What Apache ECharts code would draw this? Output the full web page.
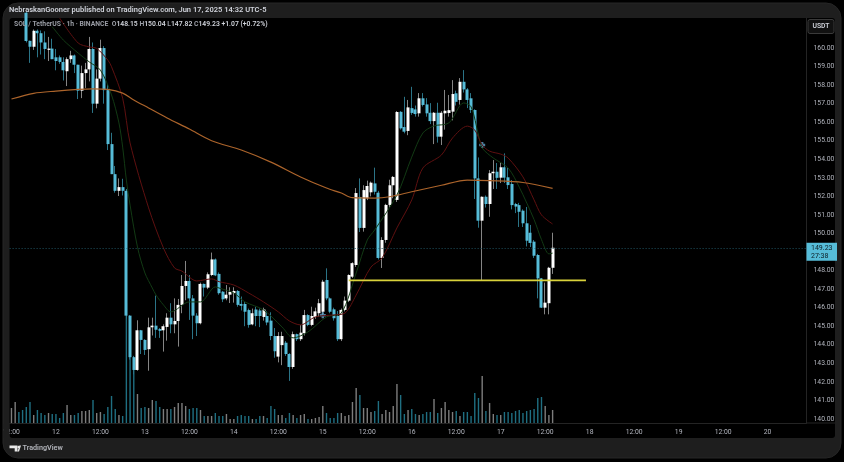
<!DOCTYPE html>
<html>
<head>
<meta charset="utf-8">
<style>html,body{margin:0;padding:0;background:#000}#main{width:844px;height:462px}</style>
<script src="https://cdn.jsdelivr.net/npm/echarts@6/dist/echarts.min.js"></script>
</head>
<body>
<div id="main"></div>
<script>
// time axis labels, one every 12 bars
var timeLabels = ['12:00','12','12:00','13','12:00','14','12:00','15','12:00','16','12:00','17','12:00','18','12:00','19','12:00','20'];
var priceTicks = [140,141,142,143,144,145,146,147,148,149,150,151,152,153,154,155,156,157,158,159,160];

// hourly candles
var opens = [
	162.2,162.6,162.9,162.5,161.9,160.39,160.07,160.93,160.8,160.3,
	159.9,159.97,159.5,159.5,159.25,158.75,159.4,159.6,159.1,157.7,
	158.65,158.85,159.95,157.0,158.35,160.0,157.73,154.82,153.2,152.3,
	152.5,152.3,145.57,143.33,142.64,144.78,144.26,143.76,144.94,145.03,
	144.85,144.78,144.96,145.46,145.1,145.28,146.15,147.17,147.44,146.5,
	145.57,145.16,147.28,147.08,147.76,148.6,147.82,146.86,146.5,146.7,
	146.78,146.9,146.2,146.2,145.87,145.1,145.9,145.85,145.5,145.55,
	145.3,144.47,143.36,143.98,144.11,143.5,142.8,144.57,144.3,144.62,
	145.6,145.07,145.5,145.7,145.78,147.49,146.5,145.91,145.55,144.3,
	145.88,146.38,147.67,148.3,151.97,150.3,151.9,152.22,152.7,152.2,
	148.68,149.65,151.54,152.6,151.81,156.56,155.74,155.53,156.76,156.69,
	156.48,157.29,156.96,156.51,156.06,156.51,155.22,156.48,156.5,156.57,
	157.56,157.2,158.18,157.77,157.29,156.66,152.97,150.69,151.98,151.59,
	153.25,153.33,153.01,153.57,153.03,152.67,151.59,151.53,151.23,150.55,
	150.04,149.56,148.84,147.58,146.0,146.24,148.15
];
var closes = [
	162.6,162.9,162.5,161.9,160.38,160.07,160.93,160.8,160.3,159.95,
	159.97,159.4,159.3,159.25,158.8,159.4,159.6,159.1,157.7,158.65,
	158.85,159.95,157.0,158.35,160.0,157.73,154.82,153.2,152.3,152.5,
	152.3,145.57,143.33,142.64,144.78,144.26,143.72,144.94,145.03,144.81,
	144.75,145.0,145.46,145.1,145.28,146.15,147.17,147.44,146.5,145.57,
	145.16,147.28,147.08,147.8,148.6,147.74,146.78,146.45,146.7,146.85,
	146.9,146.15,146.1,145.78,145.07,145.7,145.55,145.55,145.9,145.2,
	144.47,143.65,144.47,144.47,143.5,142.8,144.57,144.3,144.65,145.6,
	145.07,145.55,145.8,146.24,147.4,146.5,145.78,145.43,144.3,145.88,
	146.38,147.76,148.4,152.18,150.3,152.34,152.56,152.74,152.25,148.68,
	149.65,151.54,152.6,153.05,156.55,155.67,155.49,156.8,156.5,156.44,
	157.29,156.93,156.48,156.06,156.51,155.22,156.51,156.62,156.65,157.52,
	157.1,158.18,157.77,157.2,156.66,152.97,150.69,151.98,151.59,153.25,
	153.33,153.0,153.57,153.01,152.61,151.53,151.45,151.17,150.55,149.61,
	149.49,148.8,147.58,146.0,146.27,148.15,149.23
];
var lows = [
	162.0,162.4,162.3,161.8,160.3,159.2,159.9,159.5,159.65,159.4,
	159.3,159.4,158.8,159.15,158.25,157.95,159.2,158.65,157.25,157.3,
	157.85,158.2,156.5,156.75,158.2,157.0,154.5,153.2,152.2,152.02,
	152.05,145.4,143.2,142.4,142.6,143.5,143.45,142.6,144.5,144.37,
	144.37,143.63,144.22,144.62,144.62,143.9,145.7,146.4,145.34,144.3,
	144.47,145.1,146.6,147.0,147.7,147.7,146.7,146.3,146.4,146.25,
	146.27,146.05,145.85,145.0,144.92,145.05,145.0,144.95,145.3,145.05,
	144.25,143.3,143.05,142.9,143.4,142.05,142.7,144.2,144.2,144.5,
	145.0,145.0,145.4,145.5,145.6,146.4,145.7,145.3,144.2,144.2,
	145.8,146.3,147.6,148.2,150.08,150.1,151.8,152.0,152.1,148.6,
	148.14,149.5,151.4,151.9,151.7,155.6,155.4,155.3,156.4,156.3,
	156.3,156.85,156.3,155.9,154.82,154.9,154.77,155.6,156.3,156.1,
	156.9,156.95,157.6,156.76,156.5,151.86,150.31,147.49,151.4,150.9,
	152.4,152.4,152.72,152.72,152.4,151.3,151.1,150.35,150.35,149.3,
	149.27,148.68,146.5,145.98,145.64,145.64,147.82
];
var highs = [
	162.9,163.1,163.0,162.6,162.0,160.4,161.0,161.0,160.95,160.9,
	160.6,160.5,159.95,159.6,159.5,159.5,159.85,159.65,159.1,159.05,
	159.2,160.6,160.3,158.85,160.45,160.1,158.05,155.43,153.64,152.97,
	152.95,152.4,145.6,143.4,145.32,144.8,144.3,145.46,145.46,146.65,
	144.9,145.1,145.7,146.24,146.5,146.47,147.76,148.52,147.76,146.68,
	145.7,147.35,147.3,147.9,148.97,148.65,147.9,146.9,147.22,147.1,
	147.1,146.95,146.6,146.3,145.95,145.95,146.05,145.95,146.0,145.8,
	145.75,144.9,144.68,144.7,144.2,143.55,144.71,144.6,145.07,145.88,
	145.65,146.05,146.0,146.47,147.5,148.12,146.55,146.0,145.82,145.95,
	146.6,147.8,148.45,152.45,152.97,152.6,152.85,152.8,153.55,152.3,
	149.8,151.6,152.9,153.1,156.6,156.6,157.37,157.2,157.91,156.9,
	157.57,157.57,157.3,157.03,156.55,157.05,156.6,157.74,157.47,158.27,
	157.7,158.38,158.81,157.84,157.57,156.7,154.1,152.0,152.05,153.42,
	153.96,153.8,153.85,154.32,153.53,152.88,151.65,151.65,151.3,151.43,
	150.46,149.65,148.9,147.6,147.35,148.2,150.04
];
var volumes = [
	15,21,11,13,16,21,8,13,10,8,
	10,9,9,5,10,18,8,8,10,12,
	12,13,23,10,11,9,16,27,14,8,
	7,120,72,58,29,15,16,15,23,22,
	16,14,14,14,16,20,20,17,14,15,
	15,13,7,7,7,10,7,7,9,4,
	4,7,8,7,7,4,4,7,7,5,
	17,14,8,8,5,10,8,5,8,9,
	4,4,5,6,17,10,5,5,10,10,
	7,8,21,35,28,15,15,11,12,22,
	9,13,11,17,39,28,9,13,14,9,
	8,9,11,11,24,10,15,21,13,11,
	12,7,11,11,7,30,25,47,12,20,
	9,8,8,11,11,10,12,13,10,12,
	13,14,25,26,17,8,13
];

// moving averages, readings taken along each line as [bar, price]
var maFast = [
	[11,161.15],[14,160.43],[18,159.73],[21,159.25],[24,158.81],[27,157.47],[29,155.96],[30,154.66],[31,152.88],[32,151.53],
	[34,149.27],[36,147.87],[38,147.06],[39,146.68],[41,146.15],[43,145.77],[48,146.31],[51,146.31],[55,147.12],[56,147.06],
	[60,146.79],[63,146.31],[68,145.88],[73,144.96],[76,144.37],[80,144.69],[85,145.5],[89,145.71],[93,147.87],[96,149.65],
	[98,150.19],[104,152.07],[108,154.12],[111,155.42],[114,155.8],[118,155.96],[122,157.04],[124,156.83],[126,155.31],[127,154.61],
	[130,154.07],[134,153.53],[137,152.5],[141,150.75],[143,149.67],[145,148.9],[146,148.94]
];
var maMid = [
	[13,161.62],[18,160.27],[21,160.06],[23,159.98],[26,159.35],[27,158.99],[30,157.3],[32,154.88],[37,151.38],[41,149.22],
	[44,148.14],[46,147.97],[50,147.44],[54,147.55],[56,147.4],[60,147.22],[64,146.79],[68,146.31],[72,145.77],[75,145.28],
	[78,145.07],[82,145.5],[87,145.61],[90,145.71],[93,146.68],[97,148.19],[100,148.68],[104,150.3],[108,151.81],[111,153.53],
	[116,154.23],[119,155.15],[123,155.79],[125,155.58],[127,154.77],[129,154.44],[132,154.28],[134,154.07],[138,153.05],[141,151.81],
	[143,151.0],[146,150.51]
];
var maSlow = [
	[0,157.25],[6,157.56],[12,157.68],[18,157.77],[22,157.8],[26,157.77],[30,157.57],[33,157.2],[37,156.77],[42,156.23],
	[48,155.63],[54,155.0],[62,154.5],[70,153.85],[78,153.05],[85,152.45],[89,152.18],[92,151.93],[98,151.91],[102,151.98],
	[108,152.25],[116,152.6],[123,152.88],[129,152.85],[138,152.75],[146,152.43]
];

// drawn support line and the two small crosses
var supportLine = [[91,147.47],[155,147.47]];
var crossMarks = [[127,154.77],[84,145.59]];
var lastPrice = 149.23;
var countdown = '27:38';

var UP = '#ffffff', DOWN = '#56bcd8', UP_WICK = '#858585', DOWN_WICK = '#2b7487';
var UP_VOL = '#7d7d7d', DOWN_VOL = '#1f6f82';
var FONT = 'Roboto';

var categories = [];
for (var i = 0; i < 215; i++) {
	categories.push(i % 12 === 0 ? timeLabels[i / 12] : '');
}
var wickData = [], bodyData = [], volumeData = [];
for (var k = 0; k < opens.length; k++) {
	wickData.push([opens[k], closes[k], lows[k], highs[k]]);
	bodyData.push([opens[k], closes[k], Math.min(opens[k], closes[k]), Math.max(opens[k], closes[k])]);
	volumeData.push({
		value: volumes[k],
		itemStyle: { color: closes[k] >= opens[k] ? UP_VOL : DOWN_VOL }
	});
}

function maLine(data, color, width) {
	return {
		type: 'line',
		data: data,
		smooth: 0.3,
		showSymbol: false,
		symbol: 'none',
		lineStyle: { color: color, width: width },
		silent: true
	};
}

var chart = echarts.init(document.getElementById('main'));
chart.setOption({
	backgroundColor: '#000',
	animation: false,
	title: [{
		text: 'NebraskanGooner published on TradingView.com, Jun 17, 2025 14:32 UTC-5',
		left: 9, top: 6, padding: 0,
		textStyle: { color: '#d1d4dc', fontSize: 7.5, fontWeight: 600, fontFamily: FONT }
	}, {
		text: '{l|SOL / TetherUS · 1h · BINANCE  O}{v|148.15} {l|H}{v|150.04} {l|L}{v|147.82} {l|C}{v|149.23} {v|+1.07 (+0.72%)}',
		left: 14, top: 21, padding: 0,
		textStyle: {
			fontSize: 6.8, fontFamily: FONT,
			rich: {
				l: { color: '#9a9da5', fontSize: 6.8, fontFamily: FONT },
				v: { color: '#d1d4dc', fontSize: 6.8, fontWeight: 600, fontFamily: FONT }
			}
		}
	}],
	grid: { left: 9.5, right: 37.5, top: 18, height: 405, containLabel: false },
	xAxis: {
		type: 'category',
		data: categories,
		boundaryGap: true,
		axisTick: { show: false },
		axisLine: { show: true, lineStyle: { color: '#242424', width: 1 } },
		splitLine: { show: false },
		axisLabel: {
			interval: function (index) { return index % 12 === 0; },
			color: '#b2b5be', fontSize: 6.8, fontFamily: FONT, margin: 6, hideOverlap: false
		}
	},
	yAxis: [{
		type: 'value',
		position: 'right',
		min: 139.78,
		max: 161.62,
		scale: true,
		splitLine: { show: false },
		axisTick: { show: false },
		axisLine: { show: true, lineStyle: { color: '#242424', width: 1 } },
		axisLabel: {
			customValues: priceTicks,
			formatter: function (v) { return v.toFixed(2); },
			color: '#b2b5be', fontSize: 6.8, fontFamily: FONT, margin: 7,
			padding: [2, 0, 0, 0],
			showMinLabel: true, showMaxLabel: true
		}
	}, {
		type: 'value',
		min: 0,
		max: 405,
		show: false
	}],
	graphic: [
		{ type: 'rect', z: -10, shape: { x: 3, y: 3, width: 838, height: 455, r: 15 }, style: { fill: '#1e1e1e', stroke: '#262626', lineWidth: 1 } },
		{ type: 'rect', z: -9, shape: { x: 9.5, y: 18, width: 825.5, height: 420, r: 3 }, style: { fill: '#000' } },
		// band over the clipped first time label
		{ type: 'rect', z: 100, shape: { x: 3.5, y: 424, width: 6, height: 14 }, style: { fill: '#1e1e1e' } },
		{ type: 'line', z: 5, shape: { x1: 806.5, y1: 423, x2: 835, y2: 423 }, style: { stroke: '#242424', lineWidth: 1 } },
		{ type: 'rect', z: 5, shape: { x: 808, y: 19.5, width: 26, height: 14, r: 2 }, style: { fill: '#111', stroke: '#3a3a3a', lineWidth: 1 } },
		{ type: 'text', z: 6, style: { x: 821, y: 26.5, text: 'USDT', fill: '#d1d4dc', font: '600 6.8px ' + FONT, align: 'center', verticalAlign: 'middle' } },
		{ type: 'polygon', z: 6, shape: { points: [[9.5,445.5],[17.5,445.5],[17.5,451.5],[14.7,451.5],[14.7,448.3],[9.5,448.3]] }, style: { fill: '#e8e8e8' } },
		{ type: 'circle', z: 6, shape: { cx: 18.6, cy: 446.9, r: 1.2 }, style: { fill: '#e8e8e8' } },
		{ type: 'polygon', z: 6, shape: { points: [[21,445.5],[19.4,445.5],[17.4,451.5],[19,451.5]] }, style: { fill: '#e8e8e8' } },
		{ type: 'text', z: 6, style: { x: 22.5, y: 448.5, text: 'TradingView', fill: '#b4b6bc', font: '600 7.2px ' + FONT, align: 'left', verticalAlign: 'middle' } }
	],
	series: [{
		name: 'Volume',
		type: 'bar',
		yAxisIndex: 1,
		barWidth: 1.4,
		data: volumeData,
		silent: true
	},
	maLine(maFast, '#123a14', 1),
	maLine(maMid, '#5e1010', 1),
	{
		name: 'Wicks',
		type: 'candlestick',
		barWidth: 1,
		data: wickData,
		itemStyle: { color: UP_WICK, color0: DOWN_WICK, borderColor: UP_WICK, borderColor0: DOWN_WICK, borderWidth: 1 },
		silent: true
	},
	{
		name: 'SOL / TetherUS',
		type: 'candlestick',
		barWidth: 3.5,
		data: bodyData,
		itemStyle: { color: UP, color0: DOWN, borderColor: UP, borderColor0: DOWN, borderWidth: 0 },
		silent: true,
		markLine: {
			silent: true,
			symbol: 'none',
			animation: false,
			lineStyle: { color: '#1f5260', type: [1, 2], width: 1 },
			label: {
				position: 'end',
				distance: 0,
				offset: [0, 4],
				formatter: lastPrice.toFixed(2) + '\n' + countdown,
				backgroundColor: DOWN,
				color: '#0c1d24',
				fontSize: 7,
				lineHeight: 8,
				fontFamily: FONT,
				padding: [1, 4.5, 1, 4.5]
			},
			data: [{ yAxis: lastPrice }]
		}
	},
	maLine(maSlow, '#ac642b', 1.2),
	{
		name: 'Support',
		type: 'line',
		data: supportLine,
		symbol: 'none',
		clip: false,
		lineStyle: { color: '#d9d23b', width: 1.6 },
		silent: true
	},
	{
		name: 'Marks',
		type: 'scatter',
		data: crossMarks,
		symbol: 'path://M3 0h4v3h3v4h-3v3h-4v-3h-3v-4h3z',
		symbolSize: 6,
		itemStyle: { color: '#5f9fc6' },
		silent: true
	}]
});
</script>
</body>
</html>
